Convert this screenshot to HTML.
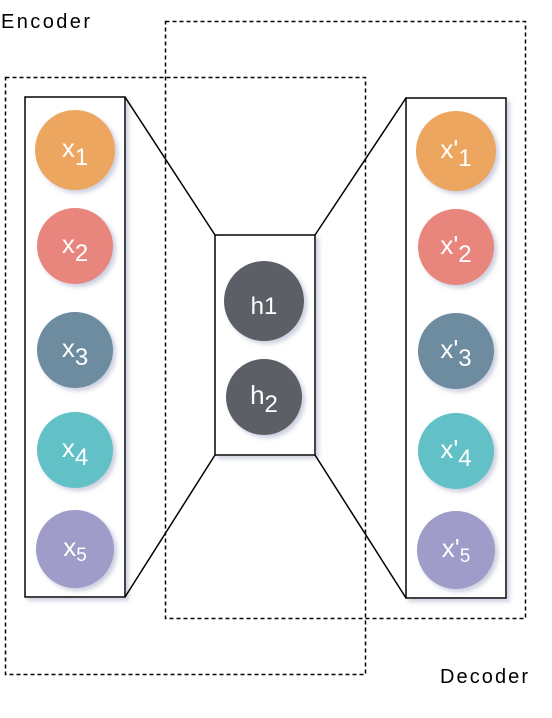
<!DOCTYPE html>
<html><head><meta charset="utf-8"><style>
html,body{margin:0;padding:0;background:#fff;width:552px;height:718px;overflow:hidden}
text{font-family:"Liberation Sans",sans-serif}
</style></head><body>
<svg width="552" height="718" viewBox="0 0 552 718" xmlns="http://www.w3.org/2000/svg">
<defs>
<filter id="sh" x="-30%" y="-30%" width="160%" height="160%"><feDropShadow dx="3" dy="3" stdDeviation="2" flood-color="#9aa0c0" flood-opacity="0.5"/></filter>
</defs>
<text x="1" y="28" font-size="20" textLength="89" fill="#000">Encoder</text>
<text x="440" y="683" font-size="20" textLength="88" fill="#000">Decoder</text>
<rect x="5.5" y="77.5" width="360" height="597" fill="none" stroke="#000" stroke-width="1.5" stroke-dasharray="4 3"/>
<rect x="165.5" y="21.5" width="360" height="597" fill="none" stroke="#000" stroke-width="1.5" stroke-dasharray="4 3"/>
<g stroke="#000" stroke-width="1.5" fill="none">
<rect x="25" y="97" width="100" height="500" fill="#fff" filter="url(#sh)"/>
<rect x="215" y="235" width="100" height="220" fill="#fff" filter="url(#sh)"/>
<rect x="406" y="98" width="100" height="500" fill="#fff" filter="url(#sh)"/>
<line x1="125" y1="97" x2="215" y2="235"/>
<line x1="125" y1="597" x2="215" y2="455"/>
<line x1="315" y1="235" x2="406" y2="98"/>
<line x1="315" y1="455" x2="406" y2="598"/>
</g>
<g filter="url(#sh)">
<circle cx="75" cy="150" r="40" fill="#EDA65E"/>
<circle cx="75" cy="246" r="38" fill="#E8867D"/>
<circle cx="75" cy="350" r="38" fill="#6D8CA0"/>
<circle cx="75" cy="450" r="38" fill="#62C1C7"/>
<circle cx="75" cy="549" r="39" fill="#A09CC9"/>
<circle cx="264" cy="301" r="40" fill="#5B5E66"/>
<circle cx="264" cy="397" r="38" fill="#5B5E66"/>
<circle cx="456" cy="151" r="40" fill="#EDA65E"/>
<circle cx="456" cy="247" r="38" fill="#E8867D"/>
<circle cx="456" cy="351" r="38" fill="#6D8CA0"/>
<circle cx="456" cy="451" r="38" fill="#62C1C7"/>
<circle cx="456" cy="550" r="39" fill="#A09CC9"/>
</g>
<g fill="#fff" font-size="26" text-anchor="middle">
<text x="75" y="157">x<tspan font-size="24" dy="8">1</tspan></text>
<text x="75" y="253">x<tspan font-size="24" dy="8">2</tspan></text>
<text x="75" y="357">x<tspan font-size="24" dy="8">3</tspan></text>
<text x="75" y="457">x<tspan font-size="24" dy="8">4</tspan></text>
<text x="75" y="556">x<tspan font-size="19" dy="5">5</tspan></text>
<text x="264" y="314" font-size="24">h1</text>
<text x="264" y="404">h<tspan font-size="24" dy="8">2</tspan></text>
<text x="456" y="158">x'<tspan font-size="24" dy="8">1</tspan></text>
<text x="456" y="254">x'<tspan font-size="24" dy="8">2</tspan></text>
<text x="456" y="358">x'<tspan font-size="24" dy="8">3</tspan></text>
<text x="456" y="458">x'<tspan font-size="24" dy="8">4</tspan></text>
<text x="456" y="557">x'<tspan font-size="19" dy="5">5</tspan></text>
</g>
</svg>
</body></html>
